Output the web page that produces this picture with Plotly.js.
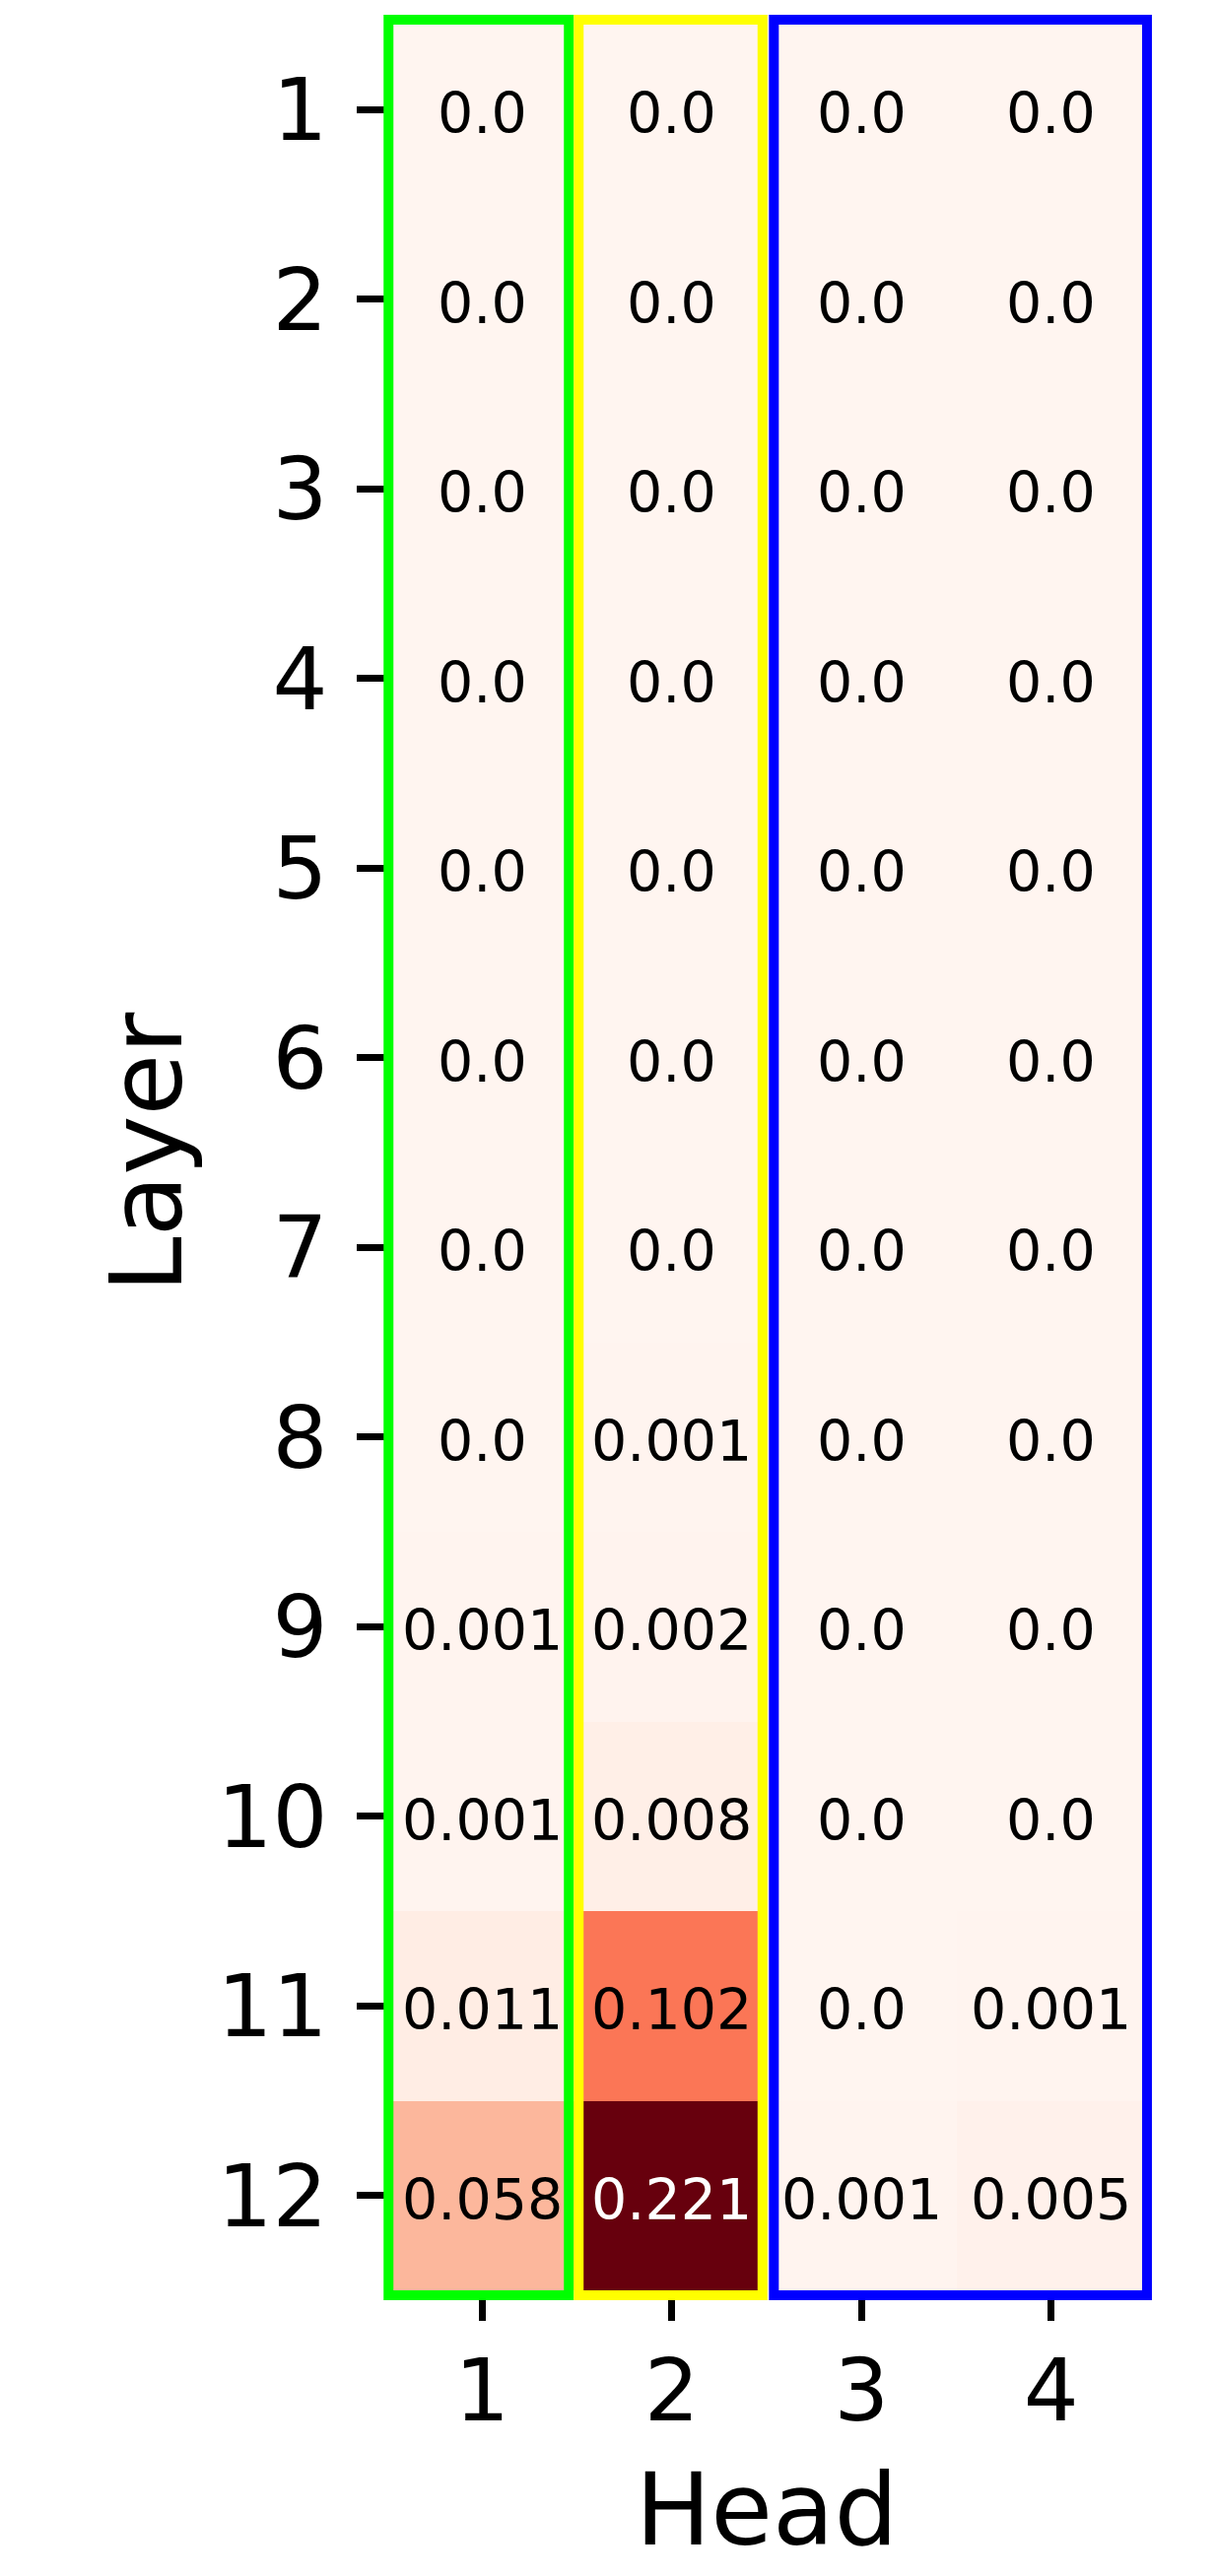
<!DOCTYPE html>
<html>
<head>
<meta charset="utf-8">
<script src="https://cdn.plot.ly/plotly-3.0.1.min.js"></script>
<style>
  body { margin: 0; background: #fff; }
  #plot { width: 1235px; height: 2615px; }
</style>
</head>
<body>
<div id="plot"></div>
<script>
let heads = [1, 2, 3, 4];
let layers = [1, 2, 3, 4, 5, 6, 7, 8, 9, 10, 11, 12];

// one array per head, top layer first
let head1 = [0, 0, 0, 0, 0, 0, 0, 0, 0.001, 0.001, 0.011, 0.058];
let head2 = [0, 0, 0, 0, 0, 0, 0, 0.001, 0.002, 0.008, 0.102, 0.221];
let head3 = [0, 0, 0, 0, 0, 0, 0, 0, 0, 0, 0, 0.001];
let head4 = [0, 0, 0, 0, 0, 0, 0, 0, 0, 0, 0.001, 0.005];

let headCols = [head1, head2, head3, head4];

// matplotlib "Reds"
let reds = [
    [0.0, '#fff5f0'], [0.125, '#fee0d2'], [0.25, '#fcbba1'],
    [0.375, '#fc9272'], [0.5, '#fb6a4a'], [0.625, '#ef3b2c'],
    [0.75, '#cb181d'], [0.875, '#a50f15'], [1.0, '#67000d']
];

let z = [];
let zmax = 0;
for (let i = 0; i < layers.length; i++) {
    let row = [];
    for (let j = 0; j < heads.length; j++) {
        row.push(headCols[j][i]);
        if (headCols[j][i] > zmax) zmax = headCols[j][i];
    }
    z.push(row);
}

// cell labels
let annotations = [];
for (let i = 0; i < layers.length; i++) {
    for (let j = 0; j < heads.length; j++) {
        let v = z[i][j];
        annotations.push({
            x: heads[j], y: layers[i], xref: 'x', yref: 'y',
            text: v === 0 ? '0.0' : String(v),
            showarrow: false,
            yshift: -4,
            font: { family: 'DejaVu Sans', size: 57, color: v / zmax > 0.7 ? '#ffffff' : '#000000' }
        });
    }
}

let heat = {
    type: 'heatmap',
    x: heads,
    y: layers,
    z: z,
    zmin: 0,
    zmax: zmax,
    colorscale: reds,
    showscale: false,
    hoverinfo: 'skip'
};

// head groups outlined, in data units: [x0, x1, y0, y1, colour]
let boxes = [
    [0.5065, 1.457, 0.526, 12.526, '#00ff00'],
    [1.509, 2.478, 0.526, 12.526, '#ffff00'],
    [2.538, 4.505, 0.526, 12.526, '#0000ff']
];
// paper refs so the outline is not clipped at the axes edge
function px(d) { return (d - 0.5) / 4; }
function py(d) { return (12.5 - d) / 12; }
let shapes = boxes.map(function (b) {
    return {
        type: 'rect', xref: 'paper', yref: 'paper',
        x0: px(b[0]), x1: px(b[1]), y0: py(b[3]), y1: py(b[2]),
        line: { color: b[4], width: 10 },
        fillcolor: 'rgba(0,0,0,0)'
    };
});

let tickFont = { family: 'DejaVu Sans', size: 88, color: '#000' };
let titleFont = { family: 'DejaVu Sans', size: 102, color: '#000' };

let layout = {
    width: 1235,
    height: 2615,
    margin: { l: 393, r: 72, t: 15, b: 290, pad: 0 },
    paper_bgcolor: '#fff',
    plot_bgcolor: '#fff',
    showlegend: false,
    xaxis: {
        range: [0.5, 4.5],
        tickvals: heads,
        ticktext: heads.map(String),
        ticks: 'outside',
        ticklen: 30,
        tickwidth: 7,
        tickcolor: '#000',
        ticklabelstandoff: -5,
        tickfont: tickFont,
        showgrid: false,
        zeroline: false,
        showline: false,
        fixedrange: true,
        title: { text: 'Head', font: titleFont, standoff: 34 }
    },
    yaxis: {
        range: [12.5, 0.5],
        tickvals: layers,
        ticktext: layers.map(String),
        ticks: 'outside',
        ticklen: 30,
        tickwidth: 7,
        tickcolor: '#000',
        ticklabelstandoff: 12,
        tickfont: tickFont,
        showgrid: false,
        zeroline: false,
        showline: false,
        fixedrange: true,
        title: { text: 'Layer', font: titleFont, standoff: 1 }
    },
    annotations: annotations,
    shapes: shapes
};

Plotly.newPlot('plot', [heat], layout, { staticPlot: true });
</script>
</body>
</html>
